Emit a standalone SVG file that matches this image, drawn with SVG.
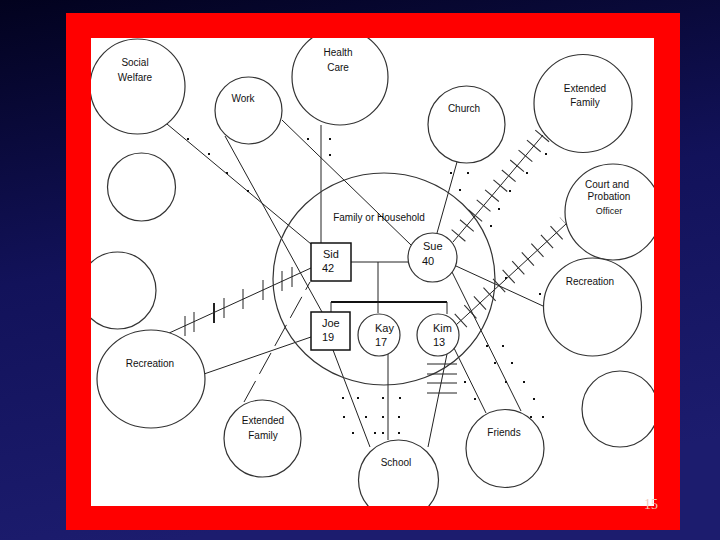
<svg xmlns="http://www.w3.org/2000/svg" width="720" height="540" viewBox="0 0 720 540">
<defs>
<linearGradient id="bg" x1="0" y1="0" x2="0.25" y2="1">
<stop offset="0" stop-color="#02021e"/>
<stop offset="0.5" stop-color="#12125a"/>
<stop offset="1" stop-color="#1c1c6e"/>
</linearGradient>
<clipPath id="paper"><rect x="91" y="38" width="563" height="468"/></clipPath>
<style>
.c{fill:#fff;stroke:#333;stroke-width:1.2}
.b{fill:#fff;stroke:#111;stroke-width:1.5}
.l{stroke:#222;stroke-width:1;fill:none}
.k{stroke:#111;stroke-width:2;fill:none}
.h{stroke:#333;stroke-width:18;stroke-dasharray:1.1 11.9;fill:none}
.v{stroke:#222;stroke-width:1;fill:none}
.d{fill:#111}
text{font-family:"Liberation Sans",Arial,sans-serif;font-size:10px;fill:#111}
.m{text-anchor:middle}
.n{font-size:11px}
</style>
</defs>
<rect width="720" height="540" fill="url(#bg)"/>
<rect x="66" y="13" width="614" height="517" fill="#ff0000"/>
<rect x="91" y="38" width="563" height="468" fill="#fff"/>
<text x="651" y="509" class="m" style="font-family:'Liberation Serif',serif;font-size:14px;fill:#f3c8b8">15</text>
<g clip-path="url(#paper)">
<g id="connectors">
<line class="l" x1="167" y1="124" x2="311" y2="244"/>
<line class="l" x1="225" y1="136" x2="322" y2="312"/>
<line class="l" x1="282" y1="120" x2="411" y2="245"/>
<line class="l" x1="321" y1="125" x2="321" y2="243"/>
<line class="l" x1="457" y1="162" x2="437" y2="233"/>
<line class="l" x1="543" y1="135" x2="453" y2="242"/>
<path class="h" d="M453 242 L543 135" stroke-dashoffset="-8"/>
<line class="l" x1="566" y1="224" x2="456" y2="325"/>
<path class="h" d="M456 325 L566 224" stroke-dashoffset="-6"/>
<line class="l" x1="456" y1="266" x2="543" y2="306"/>
<line class="l" x1="452" y1="272" x2="521" y2="411"/>
<line class="l" x1="454" y1="348" x2="486" y2="413"/>
<line class="l" x1="447" y1="354" x2="428" y2="447"/>
<g class="v">
<line x1="427" y1="364" x2="457" y2="364"/>
<line x1="427" y1="374" x2="457" y2="374"/>
<line x1="427" y1="383" x2="457" y2="383"/>
<line x1="427" y1="393" x2="457" y2="393"/>
</g>
<line class="l" x1="388" y1="354" x2="388" y2="440"/>
<line class="l" x1="333" y1="350" x2="370" y2="447"/>
<line class="l" x1="311" y1="337" x2="204" y2="374"/>
<line class="l" x1="244" y1="402" x2="310" y2="282" stroke-dasharray="24 8"/>
<line class="l" x1="167" y1="334" x2="311" y2="268"/>
<g class="v">
<line x1="185" y1="316" x2="185" y2="336"/>
<line x1="194" y1="312" x2="194" y2="332"/>
<line x1="214" y1="303" x2="214" y2="323" stroke-width="2"/>
<line x1="224" y1="298" x2="224" y2="318"/>
<line x1="243" y1="289" x2="243" y2="309"/>
<line x1="263" y1="280" x2="263" y2="300"/>
<line x1="282" y1="271" x2="282" y2="291"/>
<line x1="292" y1="267" x2="292" y2="287"/>
</g>
<g class="d">
<rect x="187" y="138" width="2" height="2"/><rect x="208" y="153" width="2" height="2"/><rect x="226" y="172" width="2" height="2"/><rect x="247" y="190" width="2" height="2"/>
<rect x="307" y="138" width="2" height="2"/><rect x="329" y="138" width="2" height="2"/><rect x="329" y="154" width="2" height="2"/>
<rect x="450" y="172" width="2" height="2"/><rect x="467" y="172" width="2" height="2"/><rect x="459" y="189" width="2" height="2"/>
<rect x="545" y="153" width="2" height="2"/><rect x="526" y="172" width="2" height="2"/><rect x="509" y="190" width="2" height="2"/><rect x="498" y="208" width="2" height="2"/><rect x="490" y="225" width="2" height="2"/>
<rect x="505" y="277" width="2" height="2"/><rect x="539" y="293" width="2" height="2"/>
<rect x="486" y="345" width="2" height="2"/><rect x="502" y="345" width="2" height="2"/><rect x="494" y="362" width="2" height="2"/><rect x="511" y="362" width="2" height="2"/>
<rect x="464" y="381" width="2" height="2"/><rect x="505" y="381" width="2" height="2"/><rect x="523" y="381" width="2" height="2"/>
<rect x="474" y="398" width="2" height="2"/><rect x="533" y="398" width="2" height="2"/><rect x="530" y="416" width="2" height="2"/><rect x="542" y="416" width="2" height="2"/>
<rect x="342" y="397" width="2" height="2"/><rect x="357" y="397" width="2" height="2"/><rect x="382" y="397" width="2" height="2"/><rect x="399" y="397" width="2" height="2"/>
<rect x="343" y="416" width="2" height="2"/><rect x="365" y="416" width="2" height="2"/><rect x="382" y="416" width="2" height="2"/><rect x="398" y="416" width="2" height="2"/>
<rect x="352" y="432" width="2" height="2"/><rect x="374" y="432" width="2" height="2"/><rect x="382" y="432" width="2" height="2"/><rect x="398" y="432" width="2" height="2"/>
</g>
<line class="l" x1="351" y1="262" x2="408" y2="262"/>
<line class="l" x1="378" y1="262" x2="378" y2="302"/>
<line class="k" x1="331" y1="302" x2="447" y2="302"/>
<line class="l" x1="331" y1="302" x2="331" y2="312"/>
<line class="l" x1="378" y1="302" x2="378" y2="313"/>
<line class="l" x1="447" y1="302" x2="447" y2="314"/>
</g>
<g id="household"><ellipse cx="384" cy="279" rx="111" ry="106" fill="none" stroke="#333" stroke-width="1.2"/><text x="379" y="221" class="m">Family or Household</text></g>
<g id="social-welfare"><circle class="c" cx="137.5" cy="86.5" r="47.5"/><text x="135" y="66" class="m">Social</text><text x="135" y="81" class="m">Welfare</text></g>
<g id="work"><circle class="c" cx="248.5" cy="110.5" r="33.5"/><text x="243" y="102" class="m">Work</text></g>
<g id="blank1"><circle class="c" cx="141.5" cy="187" r="34"/></g>
<g id="blank2"><circle class="c" cx="117.5" cy="290.5" r="38.5"/></g>
<g id="recreation-left"><ellipse class="c" cx="151" cy="379" rx="54" ry="49"/><text x="150" y="367" class="m">Recreation</text></g>
<g id="extended-family-bottom"><circle class="c" cx="262.5" cy="438.5" r="38.5"/><text x="263" y="424" class="m">Extended</text><text x="263" y="439" class="m">Family</text></g>
<g id="health-care"><circle class="c" cx="340" cy="77" r="48"/><text x="338" y="56" class="m">Health</text><text x="338" y="71" class="m">Care</text></g>
<g id="church"><circle class="c" cx="466.5" cy="124.5" r="38.5"/><text x="464" y="112" class="m">Church</text></g>
<g id="extended-family-top"><circle class="c" cx="583" cy="103.5" r="49"/><text x="585" y="92" class="m">Extended</text><text x="585" y="106" class="m">Family</text></g>
<g id="court"><circle class="c" cx="613" cy="212" r="48"/><text x="607" y="188" class="m">Court and</text><text x="609" y="200" class="m">Probation</text><text x="609" y="214" class="m" style="font-size:9px">Officer</text></g>
<g id="recreation-right"><circle class="c" cx="592.5" cy="307" r="49"/><text x="590" y="285" class="m">Recreation</text></g>
<g id="blank3"><circle class="c" cx="620" cy="409" r="38"/></g>
<g id="friends"><circle class="c" cx="505" cy="448.5" r="39"/><text x="504" y="436" class="m">Friends</text></g>
<g id="school"><circle class="c" cx="398.5" cy="480" r="40"/><text x="396" y="466" class="m">School</text></g>
<g id="sid"><rect class="b" x="311" y="243" width="40" height="38"/><text x="323" y="258" class="n">Sid</text><text x="322" y="272" class="n">42</text></g>
<g id="sue"><circle class="c" cx="432.5" cy="257.5" r="24.5"/><text x="423" y="250" class="n">Sue</text><text x="422" y="265" class="n">40</text></g>
<g id="joe"><rect class="b" x="311" y="312" width="39" height="38"/><text x="322" y="327" class="n">Joe</text><text x="322" y="341" class="n">19</text></g>
<g id="kay"><circle class="c" cx="379" cy="335" r="21"/><text x="375" y="332" class="n">Kay</text><text x="375" y="346" class="n">17</text></g>
<g id="kim"><circle class="c" cx="438" cy="335" r="21"/><text x="433" y="332" class="n">Kim</text><text x="433" y="346" class="n">13</text></g>
</g>
</svg>
